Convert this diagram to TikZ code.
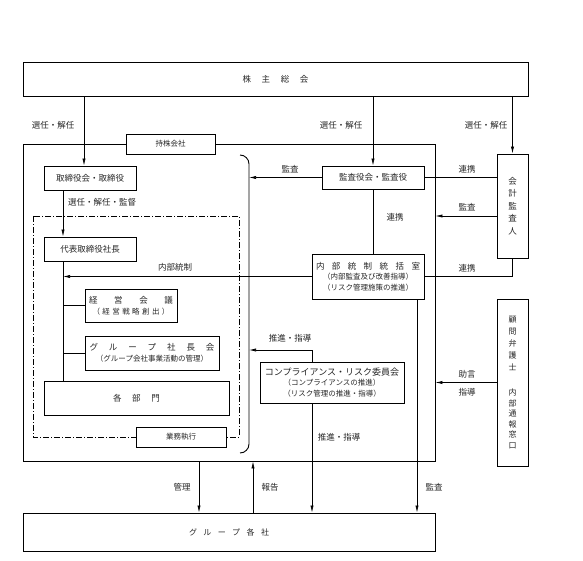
\documentclass[tikz,border=0pt]{standalone}
\usepackage{fontspec}
\setmainfont{Noto Sans CJK JP}
\usetikzlibrary{arrows.meta}
\newcommand{\spread}[2]{\makebox[#1][s]{#2}}
\tikzset{
  box/.style={draw, line width=0.8pt, inner sep=0pt, align=center, text=black!85,
    font=\fontsize{8.5}{11}\selectfont},
  lbl/.style={inner sep=0pt, text=black!85, font=\fontsize{8.5}{10}\selectfont},
  arr/.style={-{Latex[length=7pt,width=3.2pt]}, line width=0.7pt},
  ln/.style={line width=0.7pt},
  dashdot/.style={line width=0.6pt, dash pattern=on 6pt off 2pt on 1pt off 2pt}
}
\begin{document}
\begin{tikzpicture}[x=1pt,y=-1pt]
\useasboundingbox (0,0) rectangle (583,561);
% outer frames
\node[box, minimum width=505pt, minimum height=34pt] (soukai) at (275.5,79)
  {\spread{66pt}{株\hfill 主\hfill 総\hfill 会}};
\node[box, minimum width=412pt, minimum height=317pt] (holding) at (229,302.5) {};
\node[box, minimum width=412pt, minimum height=38pt, font=\fontsize{8}{10}\selectfont] (groupkaku) at (229,532)
  {\spread{80pt}{グ\hfill ル\hfill ー\hfill プ\hfill 各\hfill 社}};
\draw[dashdot] (33,216) rectangle (239,437);
\draw[ln, line width=0.9pt, rounded corners=9pt] (240,155) -- (249,155) -- (249,453) -- (240,453);
\node[box, fill=white, minimum width=89pt, minimum height=20pt, font=\fontsize{7.5}{10}\selectfont] (mochikabu) at (170.5,144) {持株会社};
\node[box, fill=white, minimum width=90pt, minimum height=20pt, font=\fontsize{7.5}{10}\selectfont] (gyomu) at (181,437) {業務執行};
% boxes inside
\node[box, minimum width=92pt, minimum height=24pt] (torishimari) at (90,178) {取締役会・取締役};
\node[box, minimum width=92pt, minimum height=24pt] (daihyo) at (90,249) {代表取締役社長};
\node[box, minimum width=92pt, minimum height=33pt, font=\fontsize{7.5}{11}\selectfont] (keiei) at (131,305.5)
  {{\fontsize{8.5}{11}\selectfont\spread{84pt}{経\hfill 営\hfill 会\hfill 議}}\\
   \spread{77pt}{（\hfill 経\hfill 営\hfill 戦\hfill 略\hfill 創\hfill 出\hfill ）}};
\node[box, minimum width=134pt, minimum height=34pt, font=\fontsize{7.5}{11}\selectfont] (groupsha) at (152,353)
  {{\fontsize{8.5}{11}\selectfont\spread{125pt}{グ\hfill ル\hfill ー\hfill プ\hfill 社\hfill 長\hfill 会}}\\
   （グループ会社事業活動の管理）};
\node[box, minimum width=185pt, minimum height=34pt] (kakubumon) at (136.5,398)
  {\spread{47pt}{各\hfill 部\hfill 門}};
\node[box, minimum width=102pt, minimum height=23pt] (kansayaku) at (373,177.5) {監査役会・監査役};
\node[box, minimum width=112pt, minimum height=45pt, font=\fontsize{7.5}{10.5}\selectfont] (naibu) at (368,276.5)
  {{\fontsize{8.5}{10.5}\selectfont\spread{104pt}{内\hfill 部\hfill 統\hfill 制\hfill 統\hfill 括\hfill 室}}\\
   （内部監査及び改善指導）\\（リスク管理施策の推進）};
\node[box, minimum width=144pt, minimum height=41pt, font=\fontsize{7.5}{10.5}\selectfont] (compliance) at (332,382.5)
  {{\fontsize{9}{10.5}\selectfont コンプライアンス・リスク委員会}\\
   （コンプライアンスの推進）\\（リスク管理の推進・指導）};
% side boxes
\node[box, minimum width=31pt, minimum height=104pt, font=\fontsize{8.5}{12.5}\selectfont] (kaikei) at (512.5,206)
  {会\\計\\監\\査\\人};
\node[box, minimum width=31pt, minimum height=167pt, font=\fontsize{8}{10.6}\selectfont] (komon) at (512.5,382.5)
  {顧\\[1.4pt]問\\[1.4pt]弁\\[1.4pt]護\\[1.4pt]士\\[14.4pt]内\\部\\通\\報\\窓\\口};
% helper points
\coordinate (brace) at (249,0);
\coordinate (spine) at ([xshift=-27pt]daihyo.south);
\coordinate (suishin) at (249,350);
% arrows from the top
\draw[arr] ([xshift=-6pt]soukai.south -| torishimari.north) -- ([xshift=-6pt]torishimari.north);
\draw[arr] (soukai.south -| kansayaku.north) -- (kansayaku.north);
\draw[arr] (soukai.south -| kaikei.north) -- (kaikei.north);
\draw[arr] (spine |- torishimari.south) -- (spine |- daihyo.north);
% audit side
\draw[arr] (kansayaku.west) -- (kansayaku.west -| brace);
\draw[ln] (kansayaku.east) -- (kansayaku.east -| kaikei.west);
\draw[arr] ([yshift=-10pt]kaikei.west) -- ([yshift=-10pt]kaikei.west -| holding.east);
\draw[ln] (kansayaku.south) -- (kansayaku.south |- naibu.north);
\draw[ln] (naibu.east) -| (kaikei.south);
\draw[arr] (naibu.west) -- (naibu.west -| spine);
\draw[arr] (komon.west) -- (komon.west -| holding.east);
% spine of the company
\draw[ln] (spine) -- (spine |- kakubumon.north);
\draw[ln] (keiei.west -| spine) -- (keiei.west);
\draw[ln] (groupsha.west -| spine) -- (groupsha.west);
% compliance
\draw[arr] ([xshift=-20pt]compliance.north) |- (suishin);
\draw[arr] ([xshift=-20pt]compliance.south) -- ([xshift=-20pt]compliance.south |- groupkaku.north);
\draw[arr] ([xshift=49pt]naibu.south) -- ([xshift=49pt]naibu.south |- groupkaku.north);
% group companies
\draw[arr] ([xshift=-30pt]holding.south) -- ([xshift=-30pt]holding.south |- groupkaku.north);
\draw[arr] ([xshift=24pt]groupkaku.north) -- ([xshift=24pt]groupkaku.north |- holding.south);
% text
\node[lbl] (l1) at (53,125) {選任・解任};
\node[lbl] (l2) at (341,125) {選任・解任};
\node[lbl] (l3) at (486,125) {選任・解任};
\node[lbl, anchor=west] (l4) at (68,202) {選任・解任・監督};
\node[lbl] (l5) at (290,169) {監査};
\node[lbl] (l6) at (467,169) {連携};
\node[lbl] (l7) at (467,207) {監査};
\node[lbl] (l8) at (395,217) {連携};
\node[lbl] (l9) at (467,268) {連携};
\node[lbl] (l10) at (175,267) {内部統制};
\node[lbl] (l11) at (290,338) {推進・指導};
\node[lbl] (l12) at (339,437) {推進・指導};
\node[lbl] (l13) at (467,374) {助言};
\node[lbl] (l14) at (467,392) {指導};
\node[lbl] (l15) at (182,487) {管理};
\node[lbl] (l16) at (270,487) {報告};
\node[lbl] (l17) at (434,487) {監査};
\end{tikzpicture}
\end{document}
